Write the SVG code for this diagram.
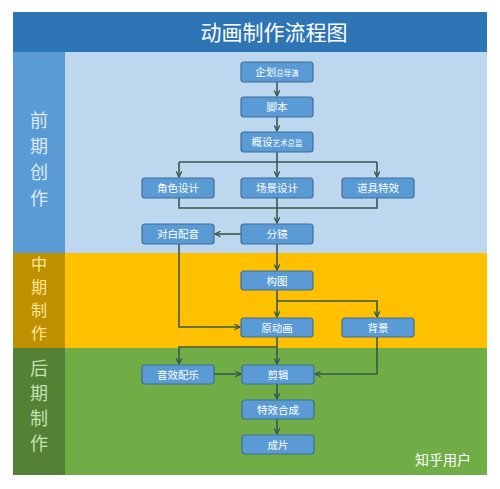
<svg xmlns="http://www.w3.org/2000/svg" width="500" height="489" viewBox="0 0 500 489">
<style>
.bg{fill:#ffffff}
.nd rect{fill:#5B9BD5;stroke:#3F6F9A;stroke-width:1.2}
.nd text{fill:#ffffff;font-family:"Noto Sans CJK SC","Noto Sans",sans-serif;font-size:10.5px;text-anchor:middle}
.sm{font-size:7.5px}
.ph{font-family:"Noto Sans CJK SC","Noto Sans",sans-serif;font-size:18px;text-anchor:middle}
.cn path{fill:none;stroke:#37584F;stroke-width:1.6}
</style>
<defs>
<marker id="ar" viewBox="0 0 10 10" refX="9" refY="5" markerWidth="7" markerHeight="7" orient="auto" markerUnits="userSpaceOnUse">
<path d="M1,1 L9,5 L1,9" fill="none" stroke="#37584F" stroke-width="1.8"/>
</marker>
</defs>
<rect class="bg" x="0" y="0" width="500" height="489"/>
<g id="title">
<rect x="13" y="12" width="474" height="40" fill="#2E75B6"/>
<text x="274" y="40" fill="#ffffff" font-family="'Noto Sans CJK SC','Noto Sans',sans-serif" font-size="21" text-anchor="middle">动画制作流程图</text>
</g>
<g id="phase1">
<rect x="13" y="52" width="52" height="201" fill="#5B9BD5"/>
<rect x="65" y="52" width="422" height="201" fill="#BDD7EE"/>
<text class="ph" fill="#DEEBF7"><tspan x="39" y="127">前</tspan><tspan x="39" y="153">期</tspan><tspan x="39" y="179">创</tspan><tspan x="39" y="205">作</tspan></text>
</g>
<g id="phase2">
<rect x="13" y="253" width="52" height="95" fill="#BF9000"/>
<rect x="65" y="253" width="422" height="95" fill="#FFC000"/>
<text class="ph" fill="#FFE699" style="font-size:16px"><tspan x="39" y="270">中</tspan><tspan x="39" y="293">期</tspan><tspan x="39" y="316">制</tspan><tspan x="39" y="339">作</tspan></text>
</g>
<g id="phase3">
<rect x="13" y="348" width="52" height="127" fill="#548235"/>
<rect x="65" y="348" width="422" height="127" fill="#70AD47"/>
<text class="ph" fill="#C5E0B4"><tspan x="39" y="375">后</tspan><tspan x="39" y="400">期</tspan><tspan x="39" y="425">制</tspan><tspan x="39" y="450">作</tspan></text>
</g>
<g class="cn" id="connectors">
<path d="M277,82 V96" marker-end="url(#ar)"/>
<path d="M277,117 V131" marker-end="url(#ar)"/>
<path d="M277,152 V162 M179,162 H377"/>
<path d="M179,162 V177" marker-end="url(#ar)"/>
<path d="M277,162 V177" marker-end="url(#ar)"/>
<path d="M377,162 V177" marker-end="url(#ar)"/>
<path d="M179,198 V208 H377 V198"/>
<path d="M277,198 V223" marker-end="url(#ar)"/>
<path d="M241,234 H215" marker-end="url(#ar)"/>
<path d="M179,244 V327 H240" marker-end="url(#ar)"/>
<path d="M277,244 V270" marker-end="url(#ar)"/>
<path d="M277,290 V317" marker-end="url(#ar)"/>
<path d="M277,301 H377 V317" marker-end="url(#ar)"/>
<path d="M277,337 V364" marker-end="url(#ar)"/>
<path d="M277,347 H179 V364" marker-end="url(#ar)"/>
<path d="M214,374 H241" marker-end="url(#ar)"/>
<path d="M377,337 V374 H315" marker-end="url(#ar)"/>
<path d="M277,384 V399" marker-end="url(#ar)"/>
<path d="M277,419 V434" marker-end="url(#ar)"/>
</g>
<g class="nd" id="n-qihua"><rect x="241" y="62" width="72" height="20" rx="3"/><text x="277" y="76">企划<tspan class="sm">总导演</tspan></text></g>
<g class="nd" id="n-jiaoben"><rect x="241" y="97" width="72" height="20" rx="3"/><text x="277" y="111">脚本</text></g>
<g class="nd" id="n-gaishe"><rect x="241" y="132" width="72" height="20" rx="3"/><text x="277" y="146">概设<tspan class="sm">艺术总监</tspan></text></g>
<g class="nd" id="n-juese"><rect x="142" y="178" width="72" height="20" rx="3"/><text x="178" y="192">角色设计</text></g>
<g class="nd" id="n-changjing"><rect x="241" y="178" width="72" height="20" rx="3"/><text x="277" y="192">场景设计</text></g>
<g class="nd" id="n-daoju"><rect x="342" y="178" width="72" height="20" rx="3"/><text x="378" y="192">道具特效</text></g>
<g class="nd" id="n-duibai"><rect x="142" y="224" width="72" height="20" rx="3"/><text x="178" y="238">对白配音</text></g>
<g class="nd" id="n-fenjing"><rect x="241" y="224" width="72" height="20" rx="3"/><text x="277" y="238">分镜</text></g>
<g class="nd" id="n-goutu"><rect x="241" y="271" width="72" height="19" rx="3"/><text x="277" y="284.5">构图</text></g>
<g class="nd" id="n-yuandonghua"><rect x="241" y="318" width="72" height="19" rx="3"/><text x="277" y="331.5">原动画</text></g>
<g class="nd" id="n-beijing"><rect x="342" y="318" width="72" height="19" rx="3"/><text x="378" y="331.5">背景</text></g>
<g class="nd" id="n-yinxiao"><rect x="142" y="365" width="72" height="19" rx="3"/><text x="178" y="378.5">音效配乐</text></g>
<g class="nd" id="n-jianji"><rect x="242" y="365" width="72" height="19" rx="3"/><text x="278" y="378.5">剪辑</text></g>
<g class="nd" id="n-texiao"><rect x="242" y="400" width="72" height="19" rx="3"/><text x="278" y="413.5">特效合成</text></g>
<g class="nd" id="n-chengpian"><rect x="242" y="435" width="72" height="19" rx="3"/><text x="278" y="448.5">成片</text></g>
<text x="415" y="465" fill="#ffffff" font-family="'Noto Sans CJK SC','Noto Sans',sans-serif" font-size="14">知乎用户</text>
</svg>
